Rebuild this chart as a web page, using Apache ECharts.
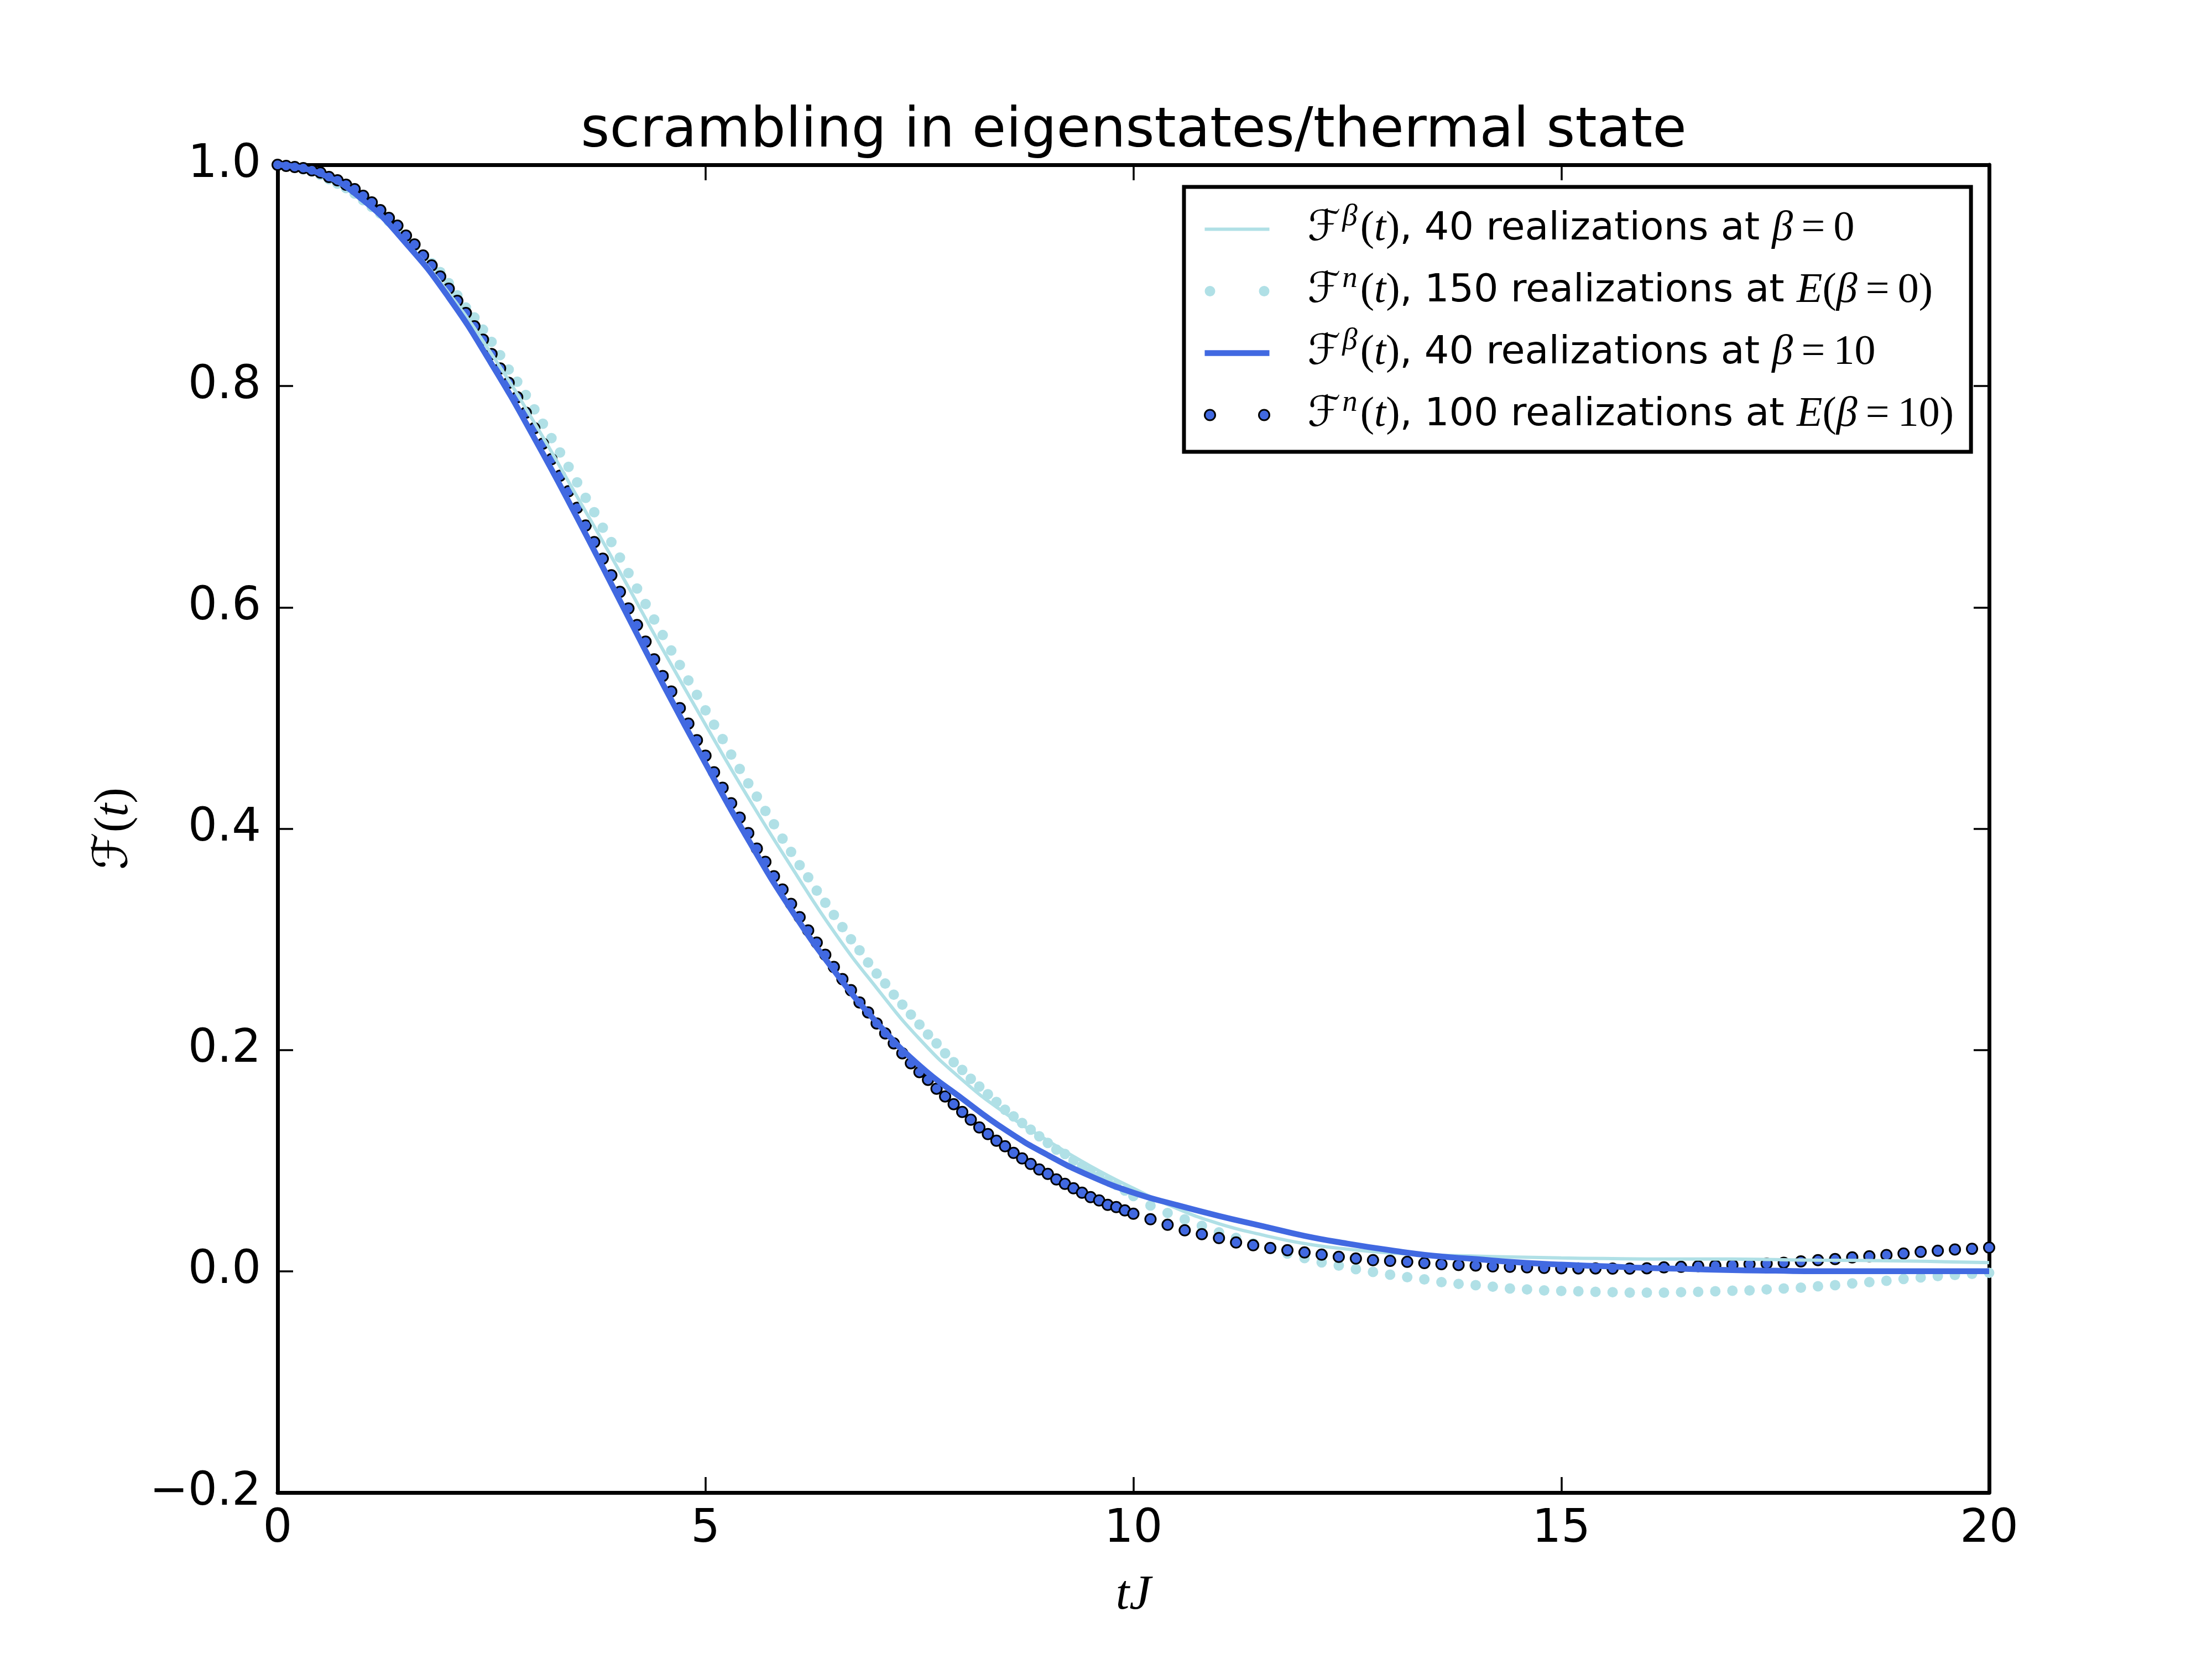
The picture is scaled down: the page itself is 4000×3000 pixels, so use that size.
<!DOCTYPE html>
<html>
<head>
<meta charset="utf-8">
<script src="https://cdn.jsdelivr.net/npm/echarts@6/dist/echarts.min.js"></script>
<style>
html,body{margin:0;padding:0;background:#fff;}
#chart{width:4000px;height:3000px;}
</style>
</head>
<body>
<div id="chart"></div>
<script>
// ---- data ----
const chartTitle = 'scrambling in eigenstates/thermal state';
const xTicks = [0, 5, 10, 15, 20];
const yTicks = [-0.2, 0.0, 0.2, 0.4, 0.6, 0.8, 1.0];

// sample times of the solid curves
const tLine = [0,0.5,1,1.5,2,2.5,3,3.5,4,4.5,5,5.5,6,6.5,7,7.5,8,8.5,9,9.5,10,
  10.5,11,11.5,12,12.5,13,13.5,14,14.5,15,15.5,16,16.5,17,17.5,18,18.5,19,19.5,20];
// F^beta(t), 40 realizations at beta=0
const lineBeta0 = [1.000,0.991,0.967,0.930,0.884,0.829,0.767,0.700,0.632,0.562,0.494,0.428,0.366,0.307,0.256,0.210,0.173,0.143,0.118,0.095,0.075,
  0.057,0.043,0.033,0.025,0.020,0.0165,0.0148,0.0137,0.0128,0.012,0.0115,0.011,0.011,0.011,0.0105,0.010,0.0098,0.0093,0.0086,0.0078];
// F^beta(t), 40 realizations at beta=10
const lineBeta10 = [1.000,0.992,0.968,0.929,0.880,0.820,0.753,0.681,0.606,0.531,0.459,0.390,0.327,0.272,0.225,0.186,0.156,0.128,0.105,0.086,0.071,
  0.060,0.050,0.041,0.032,0.025,0.019,0.014,0.011,0.008,0.006,0.0045,0.003,0.002,0.001,0.0005,0.0,0.0,0.0,0.0,0.0];

// sample times of the dotted curves
const tDots = [0,0.1,0.2,0.3,0.4,0.5,0.6,0.7,0.8,0.9,
  1,1.1,1.2,1.3,1.4,1.5,1.6,1.7,1.8,1.9,
  2,2.1,2.2,2.3,2.4,2.5,2.6,2.7,2.8,2.9,
  3,3.1,3.2,3.3,3.4,3.5,3.6,3.7,3.8,3.9,
  4,4.1,4.2,4.3,4.4,4.5,4.6,4.7,4.8,4.9,
  5,5.1,5.2,5.3,5.4,5.5,5.6,5.7,5.8,5.9,
  6,6.1,6.2,6.3,6.4,6.5,6.6,6.7,6.8,6.9,
  7,7.1,7.2,7.3,7.4,7.5,7.6,7.7,7.8,7.9,
  8,8.1,8.2,8.3,8.4,8.5,8.6,8.7,8.8,8.9,
  9,9.1,9.2,9.3,9.4,9.5,9.6,9.7,9.8,9.9,
  10,10.2,10.4,10.6,10.8,11,11.2,11.4,11.6,11.8,
  12,12.2,12.4,12.6,12.8,13,13.2,13.4,13.6,13.8,
  14,14.2,14.4,14.6,14.8,15,15.2,15.4,15.6,15.8,
  16,16.2,16.4,16.6,16.8,17,17.2,17.4,17.6,17.8,
  18,18.2,18.4,18.6,18.8,19,19.2,19.4,19.6,19.8,20];
// F^n(t), 150 realizations at E(beta=0)
const dotsBeta0 = [1.000,0.999,0.998,0.996,0.994,0.991,0.987,0.983,0.979,0.974,
  0.968,0.962,0.956,0.949,0.942,0.934,0.926,0.918,0.911,0.903,
  0.893,0.882,0.871,0.862,0.851,0.840,0.828,0.815,0.804,0.792,
  0.779,0.766,0.753,0.740,0.727,0.713,0.699,0.686,0.672,0.659,
  0.645,0.631,0.617,0.603,0.589,0.575,0.561,0.548,0.534,0.521,
  0.507,0.494,0.481,0.467,0.454,0.441,0.429,0.416,0.404,0.391,
  0.379,0.367,0.356,0.344,0.333,0.322,0.311,0.300,0.290,0.279,
  0.269,0.260,0.250,0.241,0.232,0.223,0.214,0.206,0.197,0.189,
  0.182,0.174,0.167,0.160,0.153,0.146,0.140,0.134,0.128,0.122,
  0.116,0.110,0.106,0.100,0.095,0.091,0.086,0.082,0.078,0.073,
  0.068,0.0594,0.0527,0.0469,0.0410,0.0352,0.0302,0.0252,0.0202,0.0160,
  0.0119,0.0080,0.0052,0.0019,-0.0006,-0.0031,-0.0053,-0.0073,-0.0098,-0.0114,
  -0.0126,-0.0139,-0.0156,-0.0164,-0.0173,-0.0178,-0.0181,-0.0186,-0.0189,-0.0193,
  -0.0193,-0.0193,-0.0189,-0.0186,-0.0181,-0.0176,-0.0173,-0.0164,-0.0156,-0.0148,
  -0.0136,-0.0126,-0.0110,-0.0098,-0.0086,-0.0070,-0.0056,-0.0043,-0.0033,-0.0023,-0.0014];
// F^n(t), 100 realizations at E(beta=10)
const dotsBeta10 = [1.000,0.999,0.998,0.997,0.995,0.993,0.989,0.986,0.982,0.978,
  0.972,0.966,0.959,0.952,0.945,0.936,0.928,0.918,0.909,0.899,
  0.888,0.877,0.866,0.854,0.842,0.829,0.816,0.803,0.790,0.776,
  0.762,0.748,0.734,0.719,0.705,0.690,0.674,0.659,0.644,0.629,
  0.614,0.599,0.584,0.569,0.553,0.538,0.524,0.509,0.495,0.480,
  0.466,0.451,0.437,0.423,0.410,0.396,0.382,0.370,0.357,0.345,
  0.332,0.320,0.308,0.297,0.286,0.275,0.264,0.254,0.243,0.234,
  0.224,0.215,0.206,0.197,0.188,0.180,0.173,0.165,0.158,0.151,
  0.144,0.137,0.130,0.124,0.118,0.113,0.107,0.102,0.097,0.092,
  0.088,0.083,0.079,0.075,0.071,0.067,0.064,0.060,0.058,0.055,
  0.052,0.047,0.042,0.037,0.0335,0.030,0.026,0.0235,0.021,0.019,
  0.017,0.015,0.013,0.0115,0.010,0.0094,0.0085,0.0074,0.0064,0.0057,
  0.0052,0.0044,0.0040,0.0035,0.0030,0.0027,0.0026,0.0026,0.0024,0.0024,
  0.0027,0.0035,0.0040,0.0047,0.0052,0.0057,0.0064,0.0069,0.0077,0.0089,
  0.0100,0.0110,0.0125,0.0135,0.0147,0.0160,0.0175,0.0185,0.0197,0.0203,0.0214];

// ---- styling ----
const LIGHT = '#b0e0e6';
const ROYAL = '#4169e1';
const SANS = 'DejaVu Sans';
const SERIF = 'Liberation Serif';
const CAL = "'DejaVu Serif', 'DejaVu Sans'";

const pairs = (xs, ys) => xs.map((x, i) => [x, ys[i]]);

const mathRich = (size, lh) => ({
  r:   {fontFamily: SANS, fontSize: 70, color: '#000', lineHeight: lh},
  g:   {width: 64, fontSize: 70, lineHeight: lh},
  cal: {fontFamily: CAL, fontSize: size, color: '#000', lineHeight: lh},
  it:  {fontFamily: SERIF, fontStyle: 'italic', fontSize: size, color: '#000', lineHeight: lh},
  up:  {fontFamily: SERIF, fontSize: size, color: '#000', lineHeight: lh},
  sup: {fontFamily: SERIF, fontStyle: 'italic', fontSize: Math.round(size * 0.72), color: '#000',
        lineHeight: Math.round(lh * 0.45), padding: [0, 5, lh - Math.round(lh * 0.45), 3]}
});

const EQ = '\u2009=\u2009';
const legendText = {
  'b0':  '{g| }{cal|ℱ}{sup|β}{up|(}{it|t}{up|)}{r|, 40 realizations at }{it|β}{up|' + EQ + '0}',
  'n0':  '{g| }{cal|ℱ}{sup|n}{up|(}{it|t}{up|)}{r|, 150 realizations at }{it|E}{up|(}{it|β}{up|' + EQ + '0)}',
  'b10': '{g| }{cal|ℱ}{sup|β}{up|(}{it|t}{up|)}{r|, 40 realizations at }{it|β}{up|' + EQ + '10}',
  'n10': '{g| }{cal|ℱ}{sup|n}{up|(}{it|t}{up|)}{r|, 100 realizations at }{it|E}{up|(}{it|β}{up|' + EQ + '10)}'
};

const twoDots = 'path://M0,9.5A9.5,9.5,0,1,0,19,9.5A9.5,9.5,0,1,0,0,9.5Z M98,9.5A9.5,9.5,0,1,0,117,9.5A9.5,9.5,0,1,0,98,9.5Z';
const thinBar = 'path://M0,0H117V6H0Z';
const thickBar = 'path://M0,0H117V10.5H0Z';

const axisCommon = {
  axisLine: {show: true, onZero: false, lineStyle: {color: '#000', width: 7}},
  axisTick: {show: true, inside: true, length: 28, lineStyle: {color: '#000', width: 3.5}},
  splitLine: {show: false}
};

const fmtTick = v => {
  const s = (Math.abs(v) < 1e-9 ? 0 : v).toFixed(1);
  return s.replace('-', '\u2212');
};

const chart = echarts.init(document.getElementById('chart'), null, {renderer: 'canvas', width: 4000, height: 3000});

chart.setOption({
  animation: false,
  backgroundColor: '#fff',
  title: {
    text: chartTitle,
    left: 2050,
    textAlign: 'center',
    top: 189,
    padding: 0,
    textStyle: {fontFamily: SANS, fontSize: 100, fontWeight: 'normal', color: '#000'}
  },
  grid: {left: 502, right: 403, top: 298, bottom: 301, containLabel: false},
  xAxis: [
    Object.assign({
      type: 'value', position: 'bottom', min: xTicks[0], max: xTicks[xTicks.length - 1], interval: 5,
      axisLabel: {show: true, margin: 26, fontFamily: SANS, fontSize: 83, color: '#000', formatter: v => String(v)},
      name: '{it|tJ}', nameLocation: 'middle', nameGap: 142,
      nameTextStyle: {rich: mathRich(88, 90)}
    }, axisCommon),
    Object.assign({
      type: 'value', position: 'top', min: xTicks[0], max: xTicks[xTicks.length - 1], interval: 5,
      axisLabel: {show: false}
    }, axisCommon)
  ],
  yAxis: [
    Object.assign({
      type: 'value', position: 'left', min: yTicks[0], max: yTicks[yTicks.length - 1], interval: 0.2,
      axisLabel: {show: true, margin: 30, fontFamily: SANS, fontSize: 83, color: '#000', formatter: fmtTick},
      name: '{cal|ℱ}{up|(}{it|t}{up|)}', nameLocation: 'middle', nameRotate: 90, nameGap: 250,
      nameTextStyle: {rich: mathRich(86, 90)}
    }, axisCommon),
    Object.assign({
      type: 'value', position: 'right', min: yTicks[0], max: yTicks[yTicks.length - 1], interval: 0.2,
      axisLabel: {show: false}
    }, axisCommon)
  ],
  legend: {
    show: true,
    orient: 'vertical',
    left: 2141,
    top: 338,
    padding: [27, 31, 17, 36],
    itemGap: 13,
    itemWidth: 117,
    itemHeight: 19,
    selectedMode: false,
    borderColor: '#000',
    borderWidth: 7,
    borderRadius: 0,
    backgroundColor: '#fff',
    formatter: name => legendText[name],
    textStyle: {fontFamily: SANS, fontSize: 70, color: '#000', lineHeight: 80, rich: mathRich(76, 80)},
    data: [
      {name: 'b0', icon: thinBar, itemStyle: {color: LIGHT, borderWidth: 0}},
      {name: 'n0', icon: twoDots, itemStyle: {color: LIGHT, borderWidth: 0}},
      {name: 'b10', icon: thickBar, itemStyle: {color: ROYAL, borderWidth: 0}},
      {name: 'n10', icon: twoDots, itemStyle: {color: ROYAL, borderColor: '#000', borderWidth: 3}}
    ]
  },
  series: [
    {
      name: 'b0', type: 'line', data: pairs(tLine, lineBeta0),
      smooth: 0.5, symbol: 'none', showSymbol: false,
      lineStyle: {color: LIGHT, width: 6}, itemStyle: {color: LIGHT}, clip: true
    },
    {
      name: 'n0', type: 'scatter', data: pairs(tDots, dotsBeta0),
      symbol: 'circle', symbolSize: 19,
      itemStyle: {color: LIGHT, borderWidth: 0, opacity: 1}, clip: true
    },
    {
      name: 'b10', type: 'line', data: pairs(tLine, lineBeta10),
      smooth: 0.5, symbol: 'none', showSymbol: false,
      lineStyle: {color: ROYAL, width: 10.5}, itemStyle: {color: ROYAL}, clip: true
    },
    {
      name: 'n10', type: 'scatter', data: pairs(tDots, dotsBeta10),
      symbol: 'circle', symbolSize: 19,
      itemStyle: {color: ROYAL, borderColor: '#000', borderWidth: 3, opacity: 1}, clip: true
    }
  ]
});
</script>
</body>
</html>
